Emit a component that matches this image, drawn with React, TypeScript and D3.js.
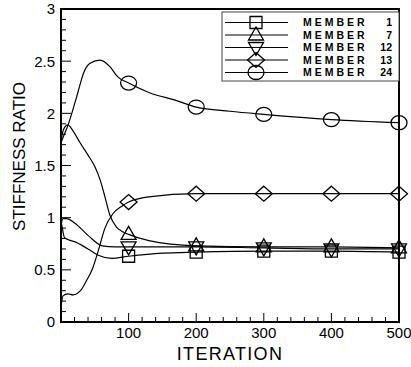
import * as d3 from "d3";

// stiffness ratio history
const ITER_1 = [0, 2, 5, 10, 20, 40, 55, 75, 100, 150, 200, 300, 400, 500];
const M1 = [0.97, 0.9, 0.81, 0.79, 0.77, 0.7, 0.64, 0.61, 0.63, 0.66, 0.67, 0.68, 0.68, 0.67];

const ITER_7 = [0, 4, 10, 18, 28, 40, 50, 58, 65, 72, 82, 90, 100, 130, 200, 300, 400, 500];
const M7 = [1.74, 1.85, 1.89, 1.83, 1.72, 1.6, 1.49, 1.36, 1.2, 1.03, 0.91, 0.87, 0.84, 0.78, 0.73, 0.72, 0.72, 0.71];

const ITER_12 = [0, 3, 8, 20, 40, 61, 80, 100, 200, 300, 400, 500];
const M12 = [0.93, 0.99, 0.99, 0.95, 0.83, 0.73, 0.72, 0.72, 0.72, 0.71, 0.7, 0.7];

const ITER_13 = [0, 3, 10, 18, 30, 38, 46, 55, 65, 77, 90, 100, 130, 200, 300, 400, 500];
const M13 = [0.15, 0.25, 0.27, 0.26, 0.31, 0.4, 0.5, 0.68, 0.9, 1.04, 1.11, 1.15, 1.2, 1.23, 1.23, 1.23, 1.23];

const ITER_24 = [0, 5, 10, 16, 25, 33, 43, 58, 72, 84, 100, 130, 172, 200, 250, 300, 400, 500];
const M24 = [1.72, 1.8, 1.88, 2.0, 2.2, 2.38, 2.48, 2.51, 2.45, 2.35, 2.29, 2.2, 2.12, 2.06, 2.02, 1.99, 1.94, 1.91];

const MARK_ITER = [100, 200, 300, 400, 500];
const X_TICKS = [100, 200, 300, 400, 500];
const Y_TICKS = [0, 0.5, 1, 1.5, 2, 2.5, 3];
const LEGEND = ["1", "7", "12", "13", "24"];

type Sym = "square" | "tri" | "itri" | "diamond" | "circle";

const series: { iter: number[]; val: number[]; sym: Sym }[] = [
  { iter: ITER_1, val: M1, sym: "square" },
  { iter: ITER_7, val: M7, sym: "tri" },
  { iter: ITER_12, val: M12, sym: "itri" },
  { iter: ITER_13, val: M13, sym: "diamond" },
  { iter: ITER_24, val: M24, sym: "circle" },
];

function symPath(sym: Sym, cx: number, cy: number): string {
  switch (sym) {
    case "square":
      return `M${cx - 6},${cy - 6}h12v12h-12Z`;
    case "tri":
      return `M${cx},${cy - 8}L${cx + 7.5},${cy + 5}L${cx - 7.5},${cy + 5}Z`;
    case "itri":
      return `M${cx},${cy + 8}L${cx + 7.5},${cy - 5}L${cx - 7.5},${cy - 5}Z`;
    case "diamond":
      return `M${cx},${cy - 7.5}L${cx + 8.5},${cy}L${cx},${cy + 7.5}L${cx - 8.5},${cy}Z`;
    default:
      return `M${cx - 8},${cy}a8,7 0 1,0 16,0a8,7 0 1,0 -16,0Z`;
  }
}

export default function App() {
  const W = 411;
  const H = 367;
  const m = { left: 61, right: 399, top: 9, bottom: 322 };

  const x = d3.scaleLinear().domain([0, 500]).range([m.left, m.right]);
  const y = d3.scaleLinear().domain([0, 3]).range([m.bottom, m.top]);

  const line = d3
    .line<[number, number]>()
    .x((d) => x(d[0]))
    .y((d) => y(d[1]))
    .curve(d3.curveMonotoneX);

  const xMinor = d3.range(0, 501, 20).filter((v) => v % 100 !== 0);
  const yMinor = d3.range(0, 31).map((v) => v / 10).filter((v) => Math.round(v * 10) % 5 !== 0);

  const font = "'Liberation Sans', Arial, Helvetica, sans-serif";
  const legX0 = 222;
  const legY0 = 12;
  const rowY = (i: number) => 22.5 + i * 12.5;

  return (
    <svg
      width={W}
      height={H}
      style={{ position: "absolute", left: 0, top: 0, background: "#fff" }}
      fontFamily={font}
    >
      <rect width={W} height={H} fill="#fff" />

      {/* curves */}
      <g fill="none" stroke="#000" strokeWidth={1.2}>
        {series.map((s, i) => (
          <path key={i} d={line(s.iter.map((t, k) => [t, s.val[k]] as [number, number])) ?? ""} />
        ))}
      </g>

      {/* markers */}
      <g fill="#fff" fillOpacity={0} stroke="#000" strokeWidth={1.3}>
        {series.map((s, i) =>
          MARK_ITER.map((t) => {
            const k = s.iter.indexOf(t);
            return <path key={`${i}-${t}`} d={symPath(s.sym, x(t), y(s.val[k]))} />;
          }),
        )}
      </g>

      {/* ticks */}
      <g stroke="#000" strokeWidth={1}>
        {X_TICKS.map((t) => (
          <line key={`xt${t}`} x1={x(t)} x2={x(t)} y1={m.bottom} y2={m.bottom - 9} />
        ))}
        {xMinor.map((t) => (
          <line key={`xm${t}`} x1={x(t)} x2={x(t)} y1={m.bottom} y2={m.bottom - 5} />
        ))}
        {Y_TICKS.map((t) => (
          <line key={`yt${t}`} x1={m.left} x2={m.left + 10} y1={y(t)} y2={y(t)} />
        ))}
        {yMinor.map((t) => (
          <line key={`ym${t}`} x1={m.left} x2={m.left + 5} y1={y(t)} y2={y(t)} />
        ))}
      </g>

      {/* frame */}
      <rect
        x={m.left}
        y={m.top}
        width={m.right - m.left}
        height={m.bottom - m.top}
        fill="none"
        stroke="#000"
        strokeWidth={2}
      />

      {/* tick labels */}
      <g fontSize={15} fill="#000">
        {Y_TICKS.map((t) => (
          <text key={`yl${t}`} x={m.left - 6} y={y(t)} dy="0.36em" textAnchor="end">
            {String(t)}
          </text>
        ))}
        {X_TICKS.map((t) => (
          <text key={`xl${t}`} x={x(t)} y={m.bottom + 16} textAnchor="middle">
            {String(t)}
          </text>
        ))}
      </g>

      {/* axis titles */}
      <text x={(m.left + m.right) / 2} y={360} fontSize={18} letterSpacing={1.3} textAnchor="middle">
        ITERATION
      </text>
      <text
        transform={`translate(25,${(m.top + m.bottom) / 2 - 9}) rotate(-90)`}
        fontSize={17}
        textAnchor="middle"
      >
        STIFFNESS RATIO
      </text>

      {/* legend */}
      <rect x={legX0} y={legY0} width={m.right - legX0} height={81 - legY0} fill="#fff" stroke="#444" strokeWidth={1} />
      {series.map((s, i) => (
        <g key={`lg${i}`}>
          <line x1={225} x2={288} y1={rowY(i)} y2={rowY(i)} stroke="#000" strokeWidth={1.2} />
          <path d={symPath(s.sym, 256, rowY(i))} fill="#fff" fillOpacity={0} stroke="#000" strokeWidth={1.3} />
          <text x={303} y={rowY(i)} dy="0.36em" fontSize={10.5} fontWeight="bold" letterSpacing={3}>
            MEMBER
          </text>
          <text x={392} y={rowY(i)} dy="0.36em" fontSize={10.5} fontWeight="bold" textAnchor="end">
            {LEGEND[i]}
          </text>
        </g>
      ))}
    </svg>
  );
}
